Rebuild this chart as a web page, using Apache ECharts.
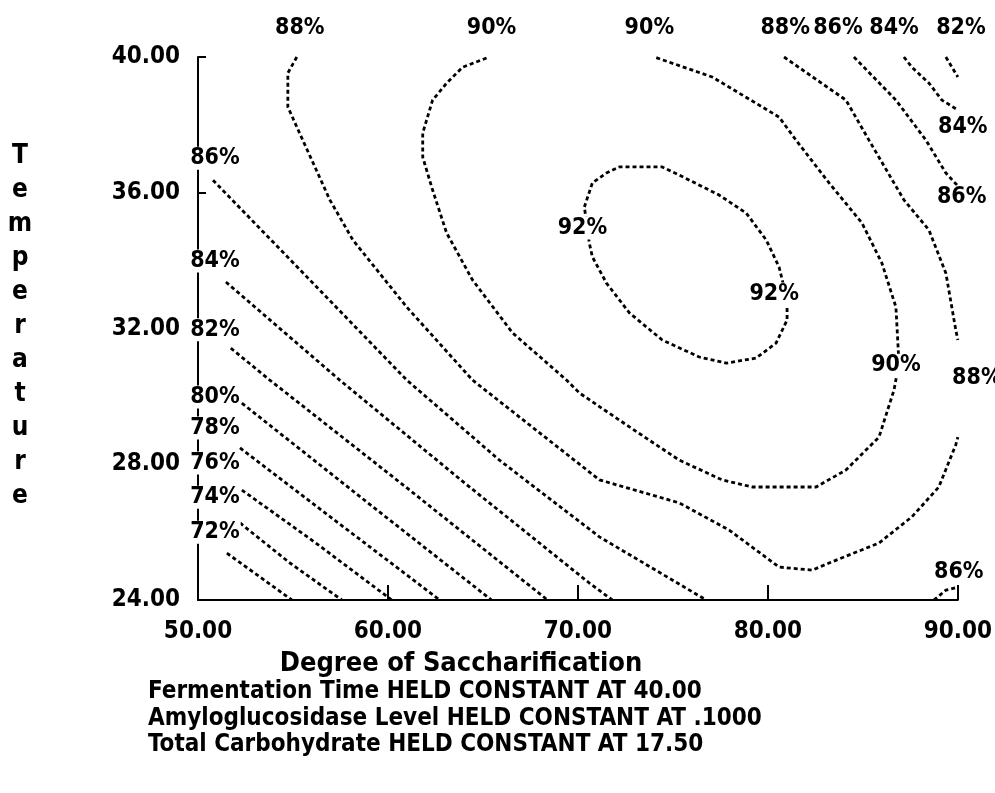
<!DOCTYPE html>
<html><head><meta charset="utf-8">
<script src="https://cdn.jsdelivr.net/npm/echarts@6/dist/echarts.min.js"></script>
<style>html,body{margin:0;padding:0;background:#fff}#c{width:995px;height:793px}</style>
</head><body><div id="c"></div>
<script>
// ---- axis ranges / ticks ----
const xMin = 50, xMax = 90, xStep = 10;
const yMin = 24, yMax = 40, yStep = 4;

// ---- texts ----
const yTitle = 'Temperature';
const xTitle = 'Degree of Saccharification';
const notes = [
  'Fermentation Time HELD CONSTANT AT 40.00',
  'Amyloglucosidase Level HELD CONSTANT AT .1000',
  'Total Carbohydrate HELD CONSTANT AT 17.50'
];

// ---- contour lines [Degree of Saccharification, Temperature] ----
const c72 = [[51.52,25.38],[53.26,24.68],[54.94,24.0]];
const c74 = [[52.21,26.27],[54.84,25.09],[57.57,24.0]];
const c76 = [[52.31,27.24],[56.2,25.68],[60.2,24.0]];
const c78 = [[52.21,28.48],[57.46,26.24],[62.72,24.0]];
const c80 = [[52.31,29.80],[58.88,26.89],[65.45,24.0]];
const c82 = [[51.73,31.42],[53.78,30.48],[61.14,27.24],[68.40,24.0]];
const c82b = [[89.37,40.0],[90.0,39.41]];
const c84 = [[51.47,33.37],[57.46,30.48],[64.03,27.45],[70.60,24.50],[71.81,24.0]];
const c84b = [[87.16,40.0],[87.58,39.70],[88.48,39.23],[89.16,38.73],[90.0,38.44]];
const c86 = [[50.79,36.37],[55.89,33.43],[60.99,30.48],[65.87,28.12],[71.13,25.86],[76.75,24.0]];
const c86b = [[84.53,40.0],[86.74,38.73],[88.32,37.55],[89.37,36.58],[90.0,36.2]];
const c86c = [[88.74,24.0],[89.37,24.29],[90.0,24.38]];
const c88 = [[55.20,40.0],[54.73,39.53],[54.73,38.53],[55.20,37.94],[56.94,35.79],[58.15,34.61],
  [60.99,32.63],[64.45,30.48],[71.13,27.54],[75.34,26.86],[77.96,26.06],[80.59,24.97],[82.33,24.88],
  [83.22,25.09],[85.85,25.68],[87.58,26.45],[89.00,27.33],[89.89,28.57],[90.0,28.8]];
const c88b = [[80.85,40.0],[84.11,38.73],[85.32,37.55],[87.16,35.79],[88.48,34.90],[89.37,33.63],
  [89.89,31.96],[90.0,31.66]];
const c90 = [[65.19,39.97],[63.93,39.70],[63.09,39.23],[62.35,38.73],[61.83,37.76],[61.83,37.05],
  [62.35,36.08],[63.09,34.81],[64.45,33.43],[66.56,31.87],[69.40,30.48],[70.08,30.10],[72.71,29.10],
  [75.34,28.12],[77.59,27.54],[79.17,27.33],[82.54,27.33],[84.11,27.83],[85.85,28.80],[86.64,30.19],
  [86.90,30.98],[86.74,32.63],[86.00,33.93],[84.95,35.11],[83.22,36.29],[81.48,37.55],[80.59,38.23],
  [77.07,39.41],[74.02,40.0]];
const c92 = [[70.34,35.58],[70.76,36.29],[71.50,36.58],[72.18,36.76],[74.44,36.76],[75.34,36.52],
  [77.44,35.93],[78.86,35.40],[79.91,34.61],[80.59,33.81],[81.01,32.84],[81.01,32.25],[80.43,31.57],
  [79.38,31.13],[77.81,30.98],[76.39,31.16],[74.44,31.66],[72.71,32.46],[71.50,33.34],[70.76,34.11],
  [70.60,34.52],[70.34,35.58]];

// ---- contour labels [x, y, text] ----
const contourLabels = [
  [55.36,40.85,'88%'],[65.45,40.85,'90%'],[73.76,40.85,'90%'],[80.91,40.85,'88%'],
  [83.69,40.85,'86%'],[86.64,40.85,'84%'],[90.16,40.85,'82%'],
  [90.26,37.94,'84%'],[90.2,35.87,'86%'],[91.0,30.54,'88%'],[86.74,30.92,'90%'],
  [80.33,33.02,'92%'],[70.24,34.96,'92%'],[90.05,24.82,'86%'],
  [50.89,37.02,'86%'],[50.89,33.99,'84%'],[50.89,31.96,'82%'],[50.89,29.98,'80%'],
  [50.89,29.07,'78%'],[50.89,28.04,'76%'],[50.89,27.03,'74%'],[50.89,26.0,'72%']
];

const contours = [c72,c74,c76,c78,c80,c82,c82b,c84,c84b,c86,c86b,c86c,c88,c88b,c90,c92];

const FONT = "'Liberation Sans Narrow','DejaVu Sans Condensed','Arial Narrow',sans-serif";
const chart = echarts.init(document.getElementById('c'), null, {renderer:'canvas'});

const series = contours.map(d => ({
  type:'line', data:d, symbol:'none', showSymbol:false, silent:true, clip:true,
  lineStyle:{color:'#000', width:2.8, type:[4,3]}, z:2
}));
series.push({
  type:'scatter', clip:false, symbolSize:0, itemStyle:{color:'#fff', opacity:1}, silent:true, z:5,
  data: contourLabels.map(l => ({value:[l[0], l[1]], label:{formatter:l[2]}})),
  label:{show:true, position:'inside', color:'#000', opacity:1, textBorderWidth:0,
    fontFamily:FONT, fontWeight:'bold', fontSize:23, backgroundColor:'#fff', padding:[0,1]}
});

const option = {
  animation:false,
  backgroundColor:'#fff',
  grid:{left:198, right:36, top:57, bottom:193},
  xAxis:{type:'value', min:xMin, max:xMax, interval:xStep,
    axisLine:{show:true, lineStyle:{color:'#000', width:2}},
    axisTick:{show:true, inside:true, length:15, lineStyle:{color:'#000', width:2}},
    splitLine:{show:false},
    axisLabel:{show:true, margin:20, color:'#000', fontFamily:FONT, fontWeight:'bold', fontSize:24,
      showMinLabel:true, showMaxLabel:true, formatter:v => v.toFixed(2)}},
  yAxis:{type:'value', min:yMin, max:yMax, interval:yStep,
    axisLine:{show:true, lineStyle:{color:'#000', width:2}},
    axisTick:{show:true, inside:true, length:8, lineStyle:{color:'#000', width:2}},
    splitLine:{show:false},
    axisLabel:{show:true, margin:18, color:'#000', fontFamily:FONT, fontWeight:'bold', fontSize:24,
      showMinLabel:true, showMaxLabel:true, formatter:v => v.toFixed(2)}},
  graphic:[
    {type:'text', style:{text:yTitle.split('').join('\n'), x:20, y:139, textAlign:'center',
      lineHeight:34, fill:'#000', font:'bold 26px '+FONT}},
    {type:'text', style:{text:xTitle, x:461, y:664, textAlign:'center', textVerticalAlign:'middle',
      fill:'#000', font:'bold 27px '+FONT}},
    {type:'text', style:{text:notes.join('\n'), x:148, y:679, textAlign:'left', lineHeight:26.5,
      fill:'#000', font:'bold 24px '+FONT}}
  ],
  series
};
chart.setOption(option);
</script></body></html>
